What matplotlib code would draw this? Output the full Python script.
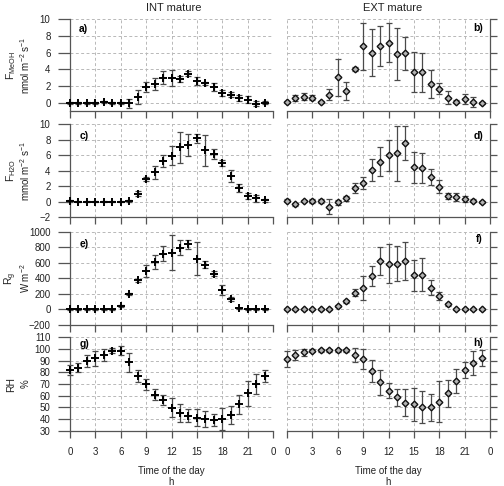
import matplotlib
matplotlib.use("Agg")
import matplotlib.pyplot as plt

plt.rcParams['font.family'] = ['Liberation Sans', 'DejaVu Sans']
plt.rcParams['mathtext.fontset'] = 'custom'
plt.rcParams['mathtext.rm'] = 'Liberation Sans'
plt.rcParams['mathtext.it'] = 'Liberation Sans:italic'

hours = list(range(24))
xtick_vals = [0, 3, 6, 9, 12, 15, 18, 21, 24]
xtick_labels = ["0", "3", "6", "9", "12", "15", "18", "21", "0"]

# Methanol flux (nmol m-2 s-1)
int_meoh = [0.0, 0.0, -0.02, 0.0, 0.1, 0.0, 0.0, -0.05, 0.7, 1.9, 2.3, 3.0, 2.95, 2.85, 3.5, 2.65,
            2.35, 1.9, 1.2, 1.0, 0.6, 0.4, -0.06, 0.05]
int_meoh_err = [0.1, 0.1, 0.1, 0.1, 0.15, 0.1, 0.1, 0.5, 0.85, 0.65, 0.7, 0.75, 0.95, 0.35, 0.3, 0.45,
                0.2, 0.5, 0.4, 0.3, 0.4, 0.4, 0.25, 0.2]
ext_meoh = [0.1, 0.55, 0.75, 0.63, 0.1, 1.0, 3.05, 1.45, 4.0, 6.75, 6.0, 6.75, 7.2, 5.8, 5.9, 3.65,
            3.65, 2.25, 1.7, 0.65, 0.15, 0.5, 0.15, 0.0]
ext_meoh_err = [0.1, 0.35, 0.4, 0.3, 0.15, 0.65, 2.2, 1.05, 0.25, 2.8, 2.8, 2.4, 2.3, 3.1, 1.95, 2.4,
                2.35, 1.7, 0.65, 0.8, 0.15, 0.6, 0.6, 0.1]

# Water flux (mmol m-2 s-1)
int_h2o = [0.1, 0.0, 0.0, 0.0, 0.0, 0.0, 0.0, 0.05, 1.0, 2.9, 3.75, 5.25, 5.9, 7.0, 7.3, 8.15,
           6.6, 6.1, 4.95, 3.3, 1.7, 0.7, 0.4, 0.15]
int_h2o_err = [0.1, 0.05, 0.05, 0.05, 0.05, 0.05, 0.05, 0.1, 0.35, 0.2, 0.85, 0.8, 1.2, 2.0, 1.45, 0.55,
               2.0, 0.65, 0.35, 0.75, 0.5, 0.4, 0.4, 0.2]
ext_h2o = [0.1, -0.35, 0.05, 0.1, 0.05, -0.65, -0.1, 0.4, 1.75, 2.35, 4.05, 5.15, 5.95, 6.2, 7.6, 4.4,
           4.3, 3.15, 1.9, 0.75, 0.55, 0.35, 0.1, -0.05]
ext_h2o_err = [0.2, 0.2, 0.15, 0.25, 0.3, 0.95, 0.3, 0.3, 0.6, 0.75, 1.4, 1.85, 2.0, 3.5, 2.2, 2.0,
               1.95, 1.0, 0.85, 0.4, 0.5, 0.35, 0.2, 0.15]

# Global radiation (W m-2)
int_rg = [0, 0, 0, 0, 0, 0, 45, 195, 375, 495, 610, 717, 730, 795, 837, 654,
          578, 461, 250, 130, 15, 0, 0, 0]
int_rg_err = [5, 5, 5, 5, 5, 5, 15, 15, 20, 80, 90, 95, 225, 100, 55, 215,
              50, 35, 60, 25, 10, 5, 5, 5]
ext_rg = [0, 0, 0, 0, 0, 0, 42, 106, 217, 277, 431, 628, 590, 590, 623, 440,
          448, 282, 175, 64, 0, 0, 0, 0]
ext_rg_err = [5, 5, 5, 5, 5, 5, 15, 20, 50, 150, 124, 180, 250, 225, 250, 200,
              215, 95, 50, 15, 5, 5, 5, 5]

# Relative humidity (%)
int_rh = [82, 84, 89.7, 92, 94.8, 98.5, 98.5, 88.5, 77, 69.7, 61, 56.3, 49.7, 45.4, 42.8, 41.2,
          40, 39.2, 40, 43.4, 52.6, 62, 69.7, 76.9]
int_rh_err = [4, 4, 5.3, 6.4, 5.4, 2, 4, 7.8, 5, 5, 5, 4.5, 8.3, 7.8, 5.5, 7.4,
              7, 5.5, 9.3, 8, 8.3, 10.7, 8.5, 5]
ext_rh = [91.4, 94.8, 97.1, 98.5, 98.8, 98.8, 98.8, 98.8, 94.8, 91.1, 81.1, 71.4, 64.3, 58.6, 54, 52.6,
          50.3, 50, 54.9, 62, 72.8, 82, 87.7, 92]
ext_rh_err = [6.7, 4, 3, 1.5, 1, 1, 1, 1, 6.3, 8.6, 9.7, 11, 6.4, 7.4, 11.3, 14.3,
              13.6, 11.6, 17.4, 11.4, 10.3, 6.9, 10.3, 6.7]

rows = [
    dict(int_v=int_meoh, int_e=int_meoh_err, ext_v=ext_meoh, ext_e=ext_meoh_err,
         ylim=(-1, 10), yticks=[0, 2, 4, 6, 8, 10],
         lab1=r"F$_{\mathregular{MeOH}}$", lab2=r"nmol m$^{\mathregular{-2}}$ s$^{\mathregular{-1}}$",
         tags=("a)", "b)"), tagy=(0.89, 0.9), px=(19, 111.4)),
    dict(int_v=int_h2o, int_e=int_h2o_err, ext_v=ext_h2o, ext_e=ext_h2o_err,
         ylim=(-2, 10), yticks=[-2, 0, 2, 4, 6, 8, 10],
         lab1=r"F$_{\mathregular{H2O}}$", lab2=r"mmol m$^{\mathregular{-2}}$ s$^{\mathregular{-1}}$",
         tags=("c)", "d)"), tagy=(0.875, 0.875), px=(124, 217)),
    dict(int_v=int_rg, int_e=int_rg_err, ext_v=ext_rg, ext_e=ext_rg_err,
         ylim=(-200, 1000), yticks=[-200, 0, 200, 400, 600, 800, 1000],
         lab1=r"R$_{\mathregular{g}}$", lab2=r"W m$^{\mathregular{-2}}$",
         tags=("e)", "f)"), tagy=(0.873, 0.92), px=(231.7, 325)),
    dict(int_v=int_rh, int_e=int_rh_err, ext_v=ext_rh, ext_e=ext_rh_err,
         ylim=(30, 110), yticks=[30, 40, 50, 60, 70, 80, 90, 100, 110],
         lab1="RH", lab2="%",
         tags=("g)", "h)"), tagy=(0.93, 0.935), px=(337.3, 430.7)),
]

W, H = 504, 486
fig = plt.figure(figsize=(W / 100, H / 100), dpi=100)

col_x = [70, 287]
col_w = 203
grid_kw = dict(color='#b8b8b8', lw=0.7, linestyle=(0, (3, 2.5)), zorder=0)
ebar_color = '#4a4a4a'

for r, row in enumerate(rows):
    top, bot = row['px']
    for c in range(2):
        ax = fig.add_axes([col_x[c] / W, 1 - bot / H, col_w / W, (bot - top) / H])
        ax.set_xlim(0, 24)
        ax.set_ylim(*row['ylim'])
        yt = row['yticks']
        # grid restricted to the tick range
        for y in yt:
            ax.plot([0, 24], [y, y], **grid_kw)
        for x in xtick_vals:
            ax.plot([x, x], [yt[0], yt[-1]], **grid_kw)
        if c == 0:
            v, e = row['int_v'], row['int_e']
            ax.errorbar(hours, v, yerr=e, fmt='none', ecolor=ebar_color, elinewidth=0.9,
                        capsize=2.2, capthick=0.9, zorder=2, clip_on=False)
            ax.plot(hours, v, ls='none', marker='+', ms=6, mew=1.4, color='black',
                    zorder=3, clip_on=False)
        else:
            v, e = row['ext_v'], row['ext_e']
            ax.errorbar(hours, v, yerr=e, fmt='none', ecolor=ebar_color, elinewidth=0.9,
                        capsize=2.2, capthick=0.9, zorder=2, clip_on=False)
            ax.plot(hours, v, ls='none', marker='D', ms=3.4, mew=1.0, mfc='#b4b4b4',
                    mec='#111111', zorder=3, clip_on=False)
        ax.spines['top'].set_visible(False)
        for s in ax.spines.values():
            s.set_color('#555555')
            s.set_linewidth(0.9)
        ax.set_xticks(xtick_vals)
        if r == 3:
            ax.set_xticklabels(xtick_labels)
        else:
            ax.set_xticklabels([])
        ax.tick_params(axis='x', direction='out', length=5, width=0.9, color='#555555',
                       labelsize=7, pad=7, labelcolor='#222222')
        ax.set_yticks(yt)
        if c == 0:
            ax.spines['right'].set_visible(False)
            ax.tick_params(axis='y', left=True, right=False, direction='out', length=9,
                           width=0.9, color='#555555', labelsize=7, pad=5, labelcolor='#222222')
        else:
            ax.spines['left'].set_visible(False)
            ax.tick_params(axis='y', left=False, right=True, labelleft=False, labelright=False,
                           direction='out', length=5, width=0.9, color='#555555')
        if c == 0:
            ax.text(0.045, row['tagy'][0], row['tags'][0], transform=ax.transAxes,
                    fontsize=7.5, fontweight='bold', ha='left', va='center')
        else:
            ax.text(0.965, row['tagy'][1], row['tags'][1], transform=ax.transAxes,
                    fontsize=7.5, fontweight='bold', ha='right', va='center')
    yc = 1 - (top + bot) / 2 / H
    fig.text(11 / W, yc, row['lab1'], rotation=90, ha='center', va='center', fontsize=7.5,
             color='#222222')
    fig.text(25.5 / W, yc, row['lab2'], rotation=90, ha='center', va='center', fontsize=7,
             color='#222222')

fig.text(174 / W, 1 - 8 / H, "INT mature", ha='center', va='center', fontsize=8, color='#222222')
fig.text(393 / W, 1 - 8 / H, "EXT mature", ha='center', va='center', fontsize=8, color='#222222')
for cx in (171, 388):
    fig.text(cx / W, 1 - 471 / H, "Time of the day", ha='center', va='center', fontsize=7,
             color='#222222')
    fig.text(cx / W, 1 - 481.5 / H, "h", ha='center', va='center', fontsize=7, color='#222222')

fig.savefig("out.png", dpi=100)
